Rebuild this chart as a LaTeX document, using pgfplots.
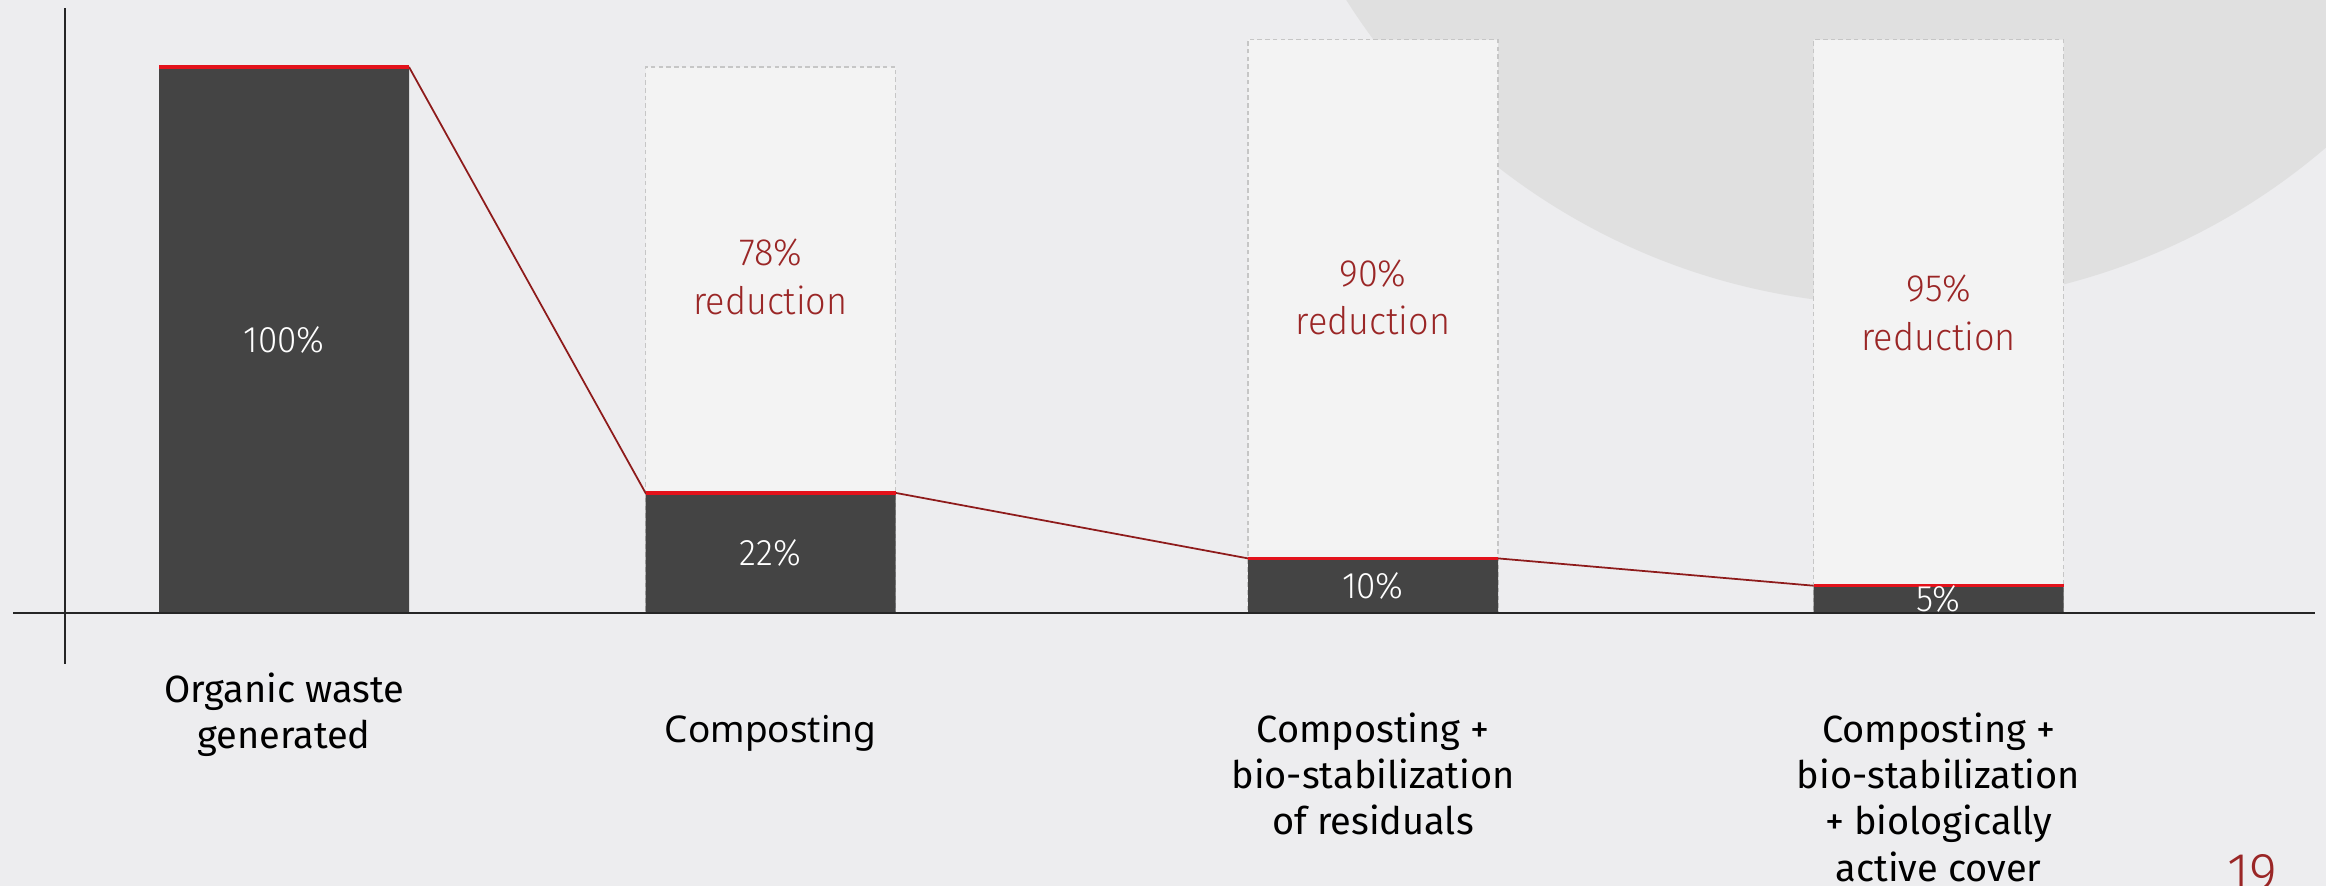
\documentclass[border=0pt]{standalone}
\usepackage{pgfplots}
\pgfplotsset{compat=1.18}
\usepackage{fontspec}
\setmainfont{Fira Sans}
\newfontfamily\lightfont{Fira Sans Light}[FakeStretch=0.95]
\newfontfamily\notosans{Noto Sans}

\definecolor{bg}{HTML}{EDEDEF}
\definecolor{blob}{HTML}{E0E0E0}
\definecolor{barfill}{HTML}{444444}
\definecolor{ghost}{HTML}{F3F3F3}
\definecolor{ghostedge}{HTML}{C6C6C6}
\definecolor{topred}{HTML}{E3121B}
\definecolor{linkred}{HTML}{8E1B1B}
\definecolor{txtred}{HTML}{9A2626}

\newcommand\lbl[1]{\begin{tabular}[t]{@{}c@{}}#1\end{tabular}}

\begin{document}
\begin{tikzpicture}
  % slide background with the large pale disc in the upper right
  \fill[bg] (0,0) rectangle (23.26,8.86);
  \begin{scope}
    \clip (0,0) rectangle (23.26,8.86);
    \fill[blob] (19.00,12.36) circle (6.55);
  \end{scope}

  \begin{axis}[
    at={(0,0)}, anchor=south west,
    scale only axis, width=23.26cm, height=8.86cm,
    xmin=0, xmax=2326, ymin=-50, ymax=112.27,
    axis x line=middle, axis y line=none,
    axis line style={draw=none},
    major tick length=0pt,
    ytick=\empty,
    xtick={284,770.5,1373,1938.5},
    xticklabels={
      {\raisebox{4.0mm}[\height][\depth]{\lbl{Organic waste\\generated}}},
      {\notosans\fontsize{10.5}{13.2}\selectfont\lbl{Composting}},
      {\lbl{Composting +\\bio-stabilization\\of residuals}},
      {\lbl{Composting +\\bio-stabilization\\+ biologically\\active cover}}
    },
    xticklabel style={anchor=north, yshift=-9.6mm, inner sep=0pt,
      font=\fontsize{10.8}{13.2}\selectfont, text=black},
    clip=false,
  ]
    % remaining share after each treatment, drawn as a pale dashed frame
    \addplot[ybar, bar width=250, bar shift=0pt, fill=ghost, draw=ghostedge,
      line width=0.35pt, dash pattern=on 1.3pt off 0.9pt]
      coordinates {(770.5,100) (1373,105) (1938.5,105)};
    % waste still left (percent of the generated amount)
    \addplot[ybar, bar width=250, bar shift=0pt, fill=barfill, draw=none]
      coordinates {(284,100) (770.5,22) (1373,10) (1938.5,5)};

    % axis lines crossing at the lower left
    \draw[black!85, line width=0.5pt] (axis cs:13,0) -- (axis cs:2315,0);
    \draw[black!85, line width=0.35pt] (axis cs:65,110.8) -- (axis cs:65,-9.34);

    % step-down connector between bar tops
    \addplot[linkred, line width=0.5pt]
      coordinates {(409,100) (645.5,22) (895.5,22) (1248,10) (1498,10) (1813.5,5)};
    % red caps on the bars
    \addplot[topred, line width=1pt] coordinates {(159,100) (409,100)};
    \addplot[topred, line width=1pt] coordinates {(645.5,22) (895.5,22)};
    \addplot[topred, line width=1pt] coordinates {(1248,10) (1498,10)};
    \addplot[topred, line width=1pt] coordinates {(1813.5,5) (2063.5,5)};

    % values inside the bars
    \begin{scope}[every node/.style={text=white, font=\lightfont\fontsize{10.5}{12}\selectfont}]
      \node at (axis cs:284,50) {100\%};
      \node at (axis cs:770.5,11) {22\%};
      \node at (axis cs:1373,5) {10\%};
      \node at (axis cs:1938.5,2.5) {5\%};
    \end{scope}
    \begin{scope}[every node/.style={text=txtred, align=center,
        font=\lightfont\fontsize{10.8}{13.9}\selectfont}]
      \node at (axis cs:770.5,61.5) {78\%\\reduction};
      \node at (axis cs:1373,57.8) {90\%\\reduction};
      \node at (axis cs:1938.5,55) {95\%\\reduction};
    \end{scope}
  \end{axis}

  % slide number
  \node[anchor=north, inner sep=0pt, text=txtred,
    font=\lightfont\fontsize{16}{19}\selectfont] at (22.52,0.32) {19};

  \pgfresetboundingbox
  \useasboundingbox (0,0) rectangle (23.26,8.86);
\end{tikzpicture}
\end{document}
